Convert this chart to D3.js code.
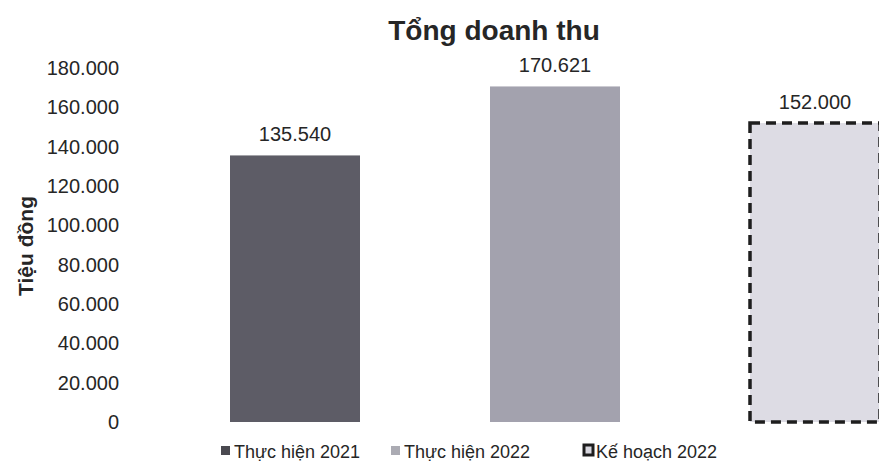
<!DOCTYPE html>
<html><head><meta charset="utf-8">
<script src="https://cdn.jsdelivr.net/npm/d3@7"></script>
<style>body{margin:0;background:#fff}text{font-family:"Liberation Sans",Arial,sans-serif;fill:#262626}</style>
</head><body><svg id="c" width="879" height="476"></svg>
<script>
const categories = ["Thực hiện 2021", "Thực hiện 2022", "Kế hoạch 2022"];
const values = [135540, 170621, 152000];
const valueLabels = ["135.540", "170.621", "152.000"];
const tickValues = [0, 20000, 40000, 60000, 80000, 100000, 120000, 140000, 160000, 180000];
const tickLabels = ["0", "20.000", "40.000", "60.000", "80.000", "100.000", "120.000", "140.000", "160.000", "180.000"];
const title = "Tổng doanh thu";
const yTitle = "Tiệu đồng";
const colors = ["#5d5c66", "#a3a2ae", "#dddce4"];

const svg = d3.select("#c");
const x = d3.scaleBand().domain(categories).range([230, 880]).paddingInner(0.5).paddingOuter(0);
const y = d3.scaleLinear().domain([0, 180000]).range([422, 68]);

svg.append("text").attr("x", 494).attr("y", 40).attr("text-anchor", "middle")
  .attr("font-size", 28).attr("font-weight", "bold").text(title);

const ax = svg.append("g").attr("transform", "translate(119,0)")
  .call(d3.axisLeft(y).tickValues(tickValues).tickSize(0).tickPadding(0)
    .tickFormat((d, i) => tickLabels[i]));
ax.select(".domain").remove();
ax.selectAll("text").attr("font-size", 20).attr("fill", "#262626")
  .style("font-family", "'Liberation Sans',Arial,sans-serif");

svg.append("text").attr("transform", "translate(33,246) rotate(-90)")
  .attr("text-anchor", "middle").attr("font-size", 21).attr("font-weight", "bold").text(yTitle);

svg.selectAll("rect.bar").data(values).enter().append("rect").attr("class", "bar")
  .attr("x", (d, i) => x(categories[i]))
  .attr("y", d => y(d))
  .attr("width", x.bandwidth())
  .attr("height", d => y(0) - y(d))
  .attr("fill", (d, i) => colors[i])
  .attr("stroke", (d, i) => i === 2 ? "#1e1e1e" : "none")
  .attr("stroke-width", 3.5)
  .attr("stroke-dasharray", (d, i) => i === 2 ? "10,6" : null);

svg.selectAll("text.val").data(values).enter().append("text").attr("class", "val")
  .attr("x", (d, i) => x(categories[i]) + x.bandwidth() / 2)
  .attr("y", d => y(d) - 14)
  .attr("text-anchor", "middle").attr("font-size", 20)
  .text((d, i) => valueLabels[i]);

const legX = [221, 391, 583];
const lg = svg.selectAll("g.leg").data(categories).enter().append("g").attr("class", "leg")
  .attr("transform", (d, i) => `translate(${legX[i]},458)`);
lg.append("rect").attr("x", (d, i) => i === 2 ? 1 : 0).attr("y", (d, i) => i === 2 ? -13 : -12)
  .attr("width", (d, i) => i === 2 ? 9 : 9).attr("height", (d, i) => i === 2 ? 10 : 9)
  .attr("fill", (d, i) => i === 0 ? "#4a4950" : i === 1 ? "#ababb3" : "#d8d7df")
  .attr("stroke", (d, i) => i === 2 ? "#1e1e1e" : "none")
  .attr("stroke-width", 3);
lg.append("text").attr("x", 13).attr("y", 0)
  .attr("font-size", 18).text(d => d);
</script></body></html>
